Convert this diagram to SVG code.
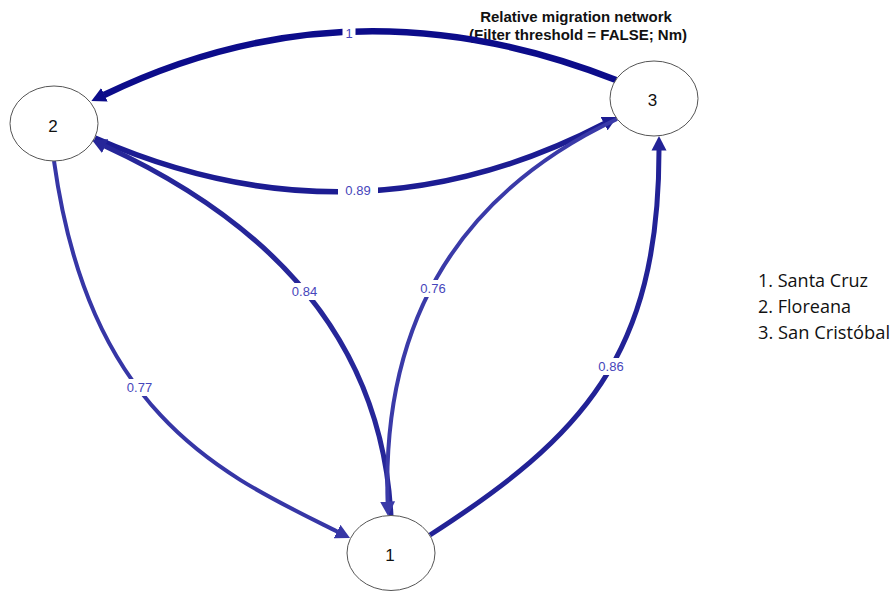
<svg xmlns="http://www.w3.org/2000/svg" width="895" height="591" viewBox="0 0 895 591">
  <style>
    .edge { fill: none; stroke-linecap: butt; }
    .node ellipse { fill: #ffffff; stroke: #555555; stroke-width: 1; }
    .node text { font-family: "Liberation Sans", Arial, sans-serif; font-size: 17px; fill: #111111; text-anchor: middle; }
    .lbl rect { fill: #ffffff; }
    .lbl text { font-family: "Liberation Sans", Arial, sans-serif; font-size: 13px; fill: #4646bb; text-anchor: middle; }
    .title { font-family: "Liberation Sans", Arial, sans-serif; font-size: 15px; font-weight: bold; fill: #111111; text-anchor: middle; }
    .legend { font-family: "Open Sans", "Noto Sans", sans-serif; font-size: 19px; fill: #111111; }
  </style>
  <defs>
    <marker id="arrW100" markerUnits="userSpaceOnUse" markerWidth="16" markerHeight="16" viewBox="0 -8 16 16" refX="0.5" refY="0" orient="auto">
      <path d="M0,-7.5 L14.5,0 L0,7.5 z" fill="#0c0c8a"/>
    </marker>
    <marker id="arrW089" markerUnits="userSpaceOnUse" markerWidth="16" markerHeight="16" viewBox="0 -8 16 16" refX="0.5" refY="0" orient="auto">
      <path d="M0,-7.5 L14.5,0 L0,7.5 z" fill="#1c1c92"/>
    </marker>
    <marker id="arrW086" markerUnits="userSpaceOnUse" markerWidth="16" markerHeight="16" viewBox="0 -8 16 16" refX="0.5" refY="0" orient="auto">
      <path d="M0,-7.5 L14.5,0 L0,7.5 z" fill="#222296"/>
    </marker>
    <marker id="arrW084" markerUnits="userSpaceOnUse" markerWidth="16" markerHeight="16" viewBox="0 -8 16 16" refX="0.5" refY="0" orient="auto">
      <path d="M0,-7.5 L14.5,0 L0,7.5 z" fill="#262699"/>
    </marker>
    <marker id="arrW077" markerUnits="userSpaceOnUse" markerWidth="16" markerHeight="16" viewBox="0 -8 16 16" refX="0.5" refY="0" orient="auto">
      <path d="M0,-7.5 L14.5,0 L0,7.5 z" fill="#3636a6"/>
    </marker>
    <marker id="arrW076" markerUnits="userSpaceOnUse" markerWidth="16" markerHeight="16" viewBox="0 -8 16 16" refX="0.5" refY="0" orient="auto">
      <path d="M0,-7.5 L14.5,0 L0,7.5 z" fill="#3a3aa8"/>
    </marker>
  </defs>

  <rect x="0" y="0" width="895" height="591" fill="#ffffff"/>

  <!-- title -->
  <text class="title" x="576" y="22">Relative migration network</text>
  <text class="title" x="578" y="40">(Filter threshold = FALSE; Nm)</text>

  <!-- connectors -->
  <g id="edges">
    <path id="e3-2" class="edge" d="M616,80 Q350.5,-24.5 104,95" stroke="#0c0c8a" stroke-width="6.5" marker-end="url(#arrW100)"/>
    <path id="e2-3" class="edge" d="M95,138 Q356,252.5 604.6,123.5" stroke="#1c1c92" stroke-width="5.5" marker-end="url(#arrW089)"/>
    <path id="e1-2" class="edge" d="M391,516 Q378.5,272 104.7,145.9" stroke="#262699" stroke-width="5" marker-end="url(#arrW084)"/>
    <path id="e3-1" class="edge" d="M617,119 Q379,231.5 387.6,502" stroke="#3a3aa8" stroke-width="4" marker-end="url(#arrW076)"/>
    <path id="e2-1" class="edge" d="M54,161 C89.6,418.4 224.8,475.4 337.5,531.7" stroke="#3636a6" stroke-width="4" marker-end="url(#arrW077)"/>
    <path id="e1-3" class="edge" d="M430,535 C581.4,437.6 659,356 659,150" stroke="#222296" stroke-width="5" marker-end="url(#arrW086)"/>

    <!-- edge labels -->
    <g class="lbl">
      <rect x="342.5" y="26" width="13" height="15"/>
      <text x="349" y="38" fill="#2a2a9e">1</text>
    </g>
    <g class="lbl">
      <rect x="338" y="182" width="40" height="16"/>
      <text x="358" y="194.5">0.89</text>
    </g>
    <g class="lbl">
      <rect x="287" y="283" width="35" height="17"/>
      <text x="304.5" y="296">0.84</text>
    </g>
    <g class="lbl">
      <rect x="416" y="280" width="34" height="17"/>
      <text x="433" y="293">0.76</text>
    </g>
    <g class="lbl">
      <rect x="122.5" y="379" width="34" height="17"/>
      <text x="139.5" y="392">0.77</text>
    </g>
    <g class="lbl">
      <rect x="594" y="358" width="34" height="17"/>
      <text x="611" y="370.5">0.86</text>
    </g>
  </g>

  <!-- nodes -->
  <g id="node-1" class="node">
    <ellipse cx="391" cy="553" rx="44" ry="37.5"/>
    <text x="390" y="561">1</text>
  </g>
  <g id="node-2" class="node">
    <ellipse cx="54" cy="123.5" rx="44" ry="37.5"/>
    <text x="53" y="131.5">2</text>
  </g>
  <g id="node-3" class="node">
    <ellipse cx="654" cy="98.5" rx="44" ry="37.5"/>
    <text x="652.5" y="106">3</text>
  </g>

  <!-- legend -->
  <g id="legend">
    <text class="legend" x="758" y="287" textLength="110" lengthAdjust="spacingAndGlyphs">1. Santa Cruz</text>
    <text class="legend" x="758" y="313" textLength="93" lengthAdjust="spacingAndGlyphs">2. Floreana</text>
    <text class="legend" x="758" y="339" textLength="132" lengthAdjust="spacingAndGlyphs">3. San Cristóbal</text>
  </g>
</svg>
